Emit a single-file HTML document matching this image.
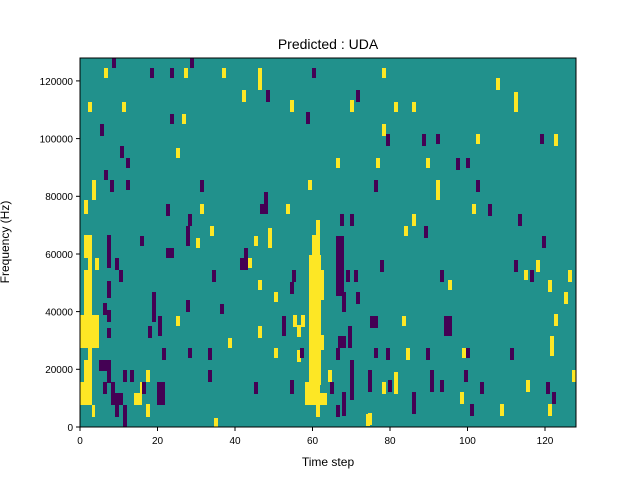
<!DOCTYPE html>
<html><head><style>body{margin:0;background:#fff}svg{display:block}text{font-family:"Liberation Sans","DejaVu Sans",sans-serif;font-size:10px;fill:#000}</style></head>
<body>
<svg width="640" height="480" xmlns="http://www.w3.org/2000/svg">
<rect x="80" y="58" width="496" height="369" fill="#21918c"/>
<g fill="#fde725">
<rect x="104" y="68" width="4" height="10"/><rect x="184" y="68" width="4" height="10"/><rect x="222" y="68" width="4" height="10"/><rect x="258" y="68" width="4" height="22"/><rect x="382" y="68" width="4" height="10"/><rect x="496" y="78" width="4" height="12"/><rect x="242" y="90" width="4" height="12"/><rect x="290" y="100" width="4" height="12"/><rect x="350" y="100" width="4" height="12"/><rect x="88" y="102" width="4" height="10"/><rect x="122" y="102" width="4" height="10"/><rect x="394" y="102" width="4" height="10"/><rect x="412" y="102" width="4" height="10"/><rect x="514" y="92" width="4" height="20"/><rect x="182" y="114" width="4" height="10"/><rect x="382" y="124" width="4" height="12"/><rect x="554" y="134" width="4" height="12"/><rect x="476" y="134" width="4" height="10"/><rect x="336" y="158" width="4" height="10"/><rect x="426" y="158" width="4" height="10"/><rect x="176" y="148" width="4" height="10"/><rect x="376" y="158" width="4" height="10"/><rect x="92" y="180" width="4" height="20"/><rect x="436" y="180" width="4" height="20"/><rect x="308" y="180" width="4" height="10"/><rect x="84" y="200" width="4" height="14"/><rect x="200" y="204" width="4" height="10"/><rect x="472" y="204" width="4" height="10"/><rect x="286" y="204" width="4" height="10"/><rect x="412" y="214" width="4" height="12"/><rect x="196" y="238" width="4" height="10"/><rect x="268" y="228" width="4" height="20"/><rect x="404" y="226" width="4" height="10"/><rect x="254" y="236" width="4" height="10"/><rect x="210" y="226" width="4" height="10"/>
<rect x="84" y="235" width="8" height="23"/><rect x="88" y="258" width="4" height="12"/><rect x="95" y="258" width="4" height="12"/><rect x="84" y="270" width="8" height="45"/><rect x="80" y="315" width="19" height="33"/><rect x="88" y="348" width="4" height="12"/><rect x="84" y="360" width="8" height="22"/><rect x="80" y="382" width="12" height="23"/><rect x="92" y="405" width="3" height="12"/>
<rect x="316" y="220" width="4" height="15"/><rect x="312" y="235" width="8" height="20"/><rect x="309" y="255" width="12" height="130"/><rect x="310" y="270" width="14" height="30"/><rect x="310" y="335" width="14" height="15"/><rect x="305" y="382" width="15" height="23"/><rect x="309" y="393" width="18" height="12"/><rect x="316" y="405" width="4" height="12"/><rect x="293" y="315" width="4" height="12"/><rect x="301" y="315" width="4" height="12"/><rect x="297" y="325" width="4" height="12"/><rect x="297" y="350" width="4" height="12"/><rect x="328" y="370" width="4" height="12"/>
<rect x="176" y="316" width="4" height="10"/><rect x="228" y="338" width="4" height="10"/><rect x="274" y="292" width="4" height="10"/><rect x="274" y="348" width="4" height="10"/><rect x="258" y="326" width="4" height="12"/><rect x="402" y="316" width="4" height="10"/><rect x="406" y="348" width="4" height="12"/><rect x="394" y="372" width="4" height="22"/><rect x="382" y="382" width="4" height="12"/><rect x="146" y="404" width="4" height="12"/><rect x="366" y="414" width="4" height="12"/><rect x="214" y="418" width="4" height="9"/><rect x="548" y="404" width="4" height="12"/><rect x="500" y="404" width="4" height="12"/><rect x="526" y="380" width="4" height="12"/><rect x="460" y="392" width="4" height="12"/><rect x="554" y="314" width="4" height="12"/><rect x="550" y="336" width="4" height="20"/><rect x="564" y="292" width="4" height="12"/><rect x="568" y="270" width="4" height="12"/><rect x="572" y="370" width="4" height="12"/><rect x="548" y="280" width="4" height="12"/><rect x="524" y="270" width="4" height="10"/><rect x="462" y="348" width="4" height="10"/><rect x="448" y="280" width="4" height="10"/><rect x="258" y="280" width="4" height="10"/><rect x="248" y="258" width="4" height="10"/><rect x="536" y="260" width="4" height="12"/><rect x="146" y="370" width="4" height="12"/><rect x="140" y="382" width="4" height="12"/><rect x="134" y="393" width="8" height="12"/><rect x="146" y="405" width="4" height="12"/><rect x="368" y="413" width="4" height="12"/>
</g>
<g fill="#440154">
<rect x="112" y="58" width="4" height="10"/><rect x="150" y="68" width="4" height="10"/><rect x="170" y="68" width="4" height="10"/><rect x="190" y="58" width="4" height="10"/><rect x="312" y="68" width="4" height="10"/><rect x="266" y="90" width="4" height="12"/><rect x="356" y="90" width="4" height="12"/><rect x="306" y="112" width="4" height="12"/><rect x="100" y="124" width="4" height="12"/><rect x="170" y="114" width="4" height="10"/><rect x="120" y="146" width="4" height="12"/><rect x="386" y="134" width="4" height="12"/><rect x="422" y="134" width="4" height="12"/><rect x="436" y="134" width="4" height="10"/><rect x="540" y="134" width="4" height="10"/><rect x="456" y="158" width="4" height="12"/><rect x="466" y="158" width="4" height="10"/><rect x="126" y="158" width="4" height="10"/><rect x="104" y="170" width="4" height="10"/><rect x="110" y="180" width="4" height="12"/><rect x="126" y="180" width="4" height="10"/><rect x="200" y="180" width="4" height="12"/><rect x="374" y="180" width="4" height="12"/><rect x="476" y="180" width="4" height="12"/><rect x="264" y="192" width="4" height="22"/><rect x="166" y="204" width="4" height="12"/><rect x="188" y="214" width="4" height="12"/><rect x="260" y="204" width="4" height="10"/><rect x="340" y="214" width="4" height="12"/><rect x="350" y="214" width="4" height="12"/><rect x="488" y="204" width="4" height="12"/><rect x="518" y="214" width="4" height="12"/>
<rect x="107" y="235" width="4" height="33"/><rect x="107" y="281" width="4" height="17"/><rect x="107" y="310" width="4" height="12"/><rect x="115" y="258" width="4" height="12"/><rect x="119" y="270" width="4" height="12"/><rect x="103" y="303" width="4" height="12"/><rect x="107" y="328" width="4" height="10"/><rect x="99" y="360" width="12" height="11"/><rect x="107" y="371" width="4" height="12"/><rect x="103" y="382" width="4" height="12"/><rect x="111" y="382" width="4" height="12"/><rect x="111" y="393" width="12" height="12"/><rect x="115" y="405" width="4" height="12"/><rect x="123" y="405" width="4" height="12"/><rect x="123" y="370" width="4" height="12"/><rect x="130" y="370" width="4" height="12"/><rect x="123" y="417" width="4" height="10"/><rect x="157" y="382" width="8" height="23"/>
<rect x="140" y="236" width="4" height="10"/><rect x="186" y="226" width="4" height="20"/><rect x="424" y="226" width="4" height="12"/><rect x="542" y="236" width="4" height="12"/><rect x="166" y="248" width="8" height="10"/><rect x="244" y="248" width="4" height="22"/><rect x="240" y="258" width="4" height="12"/><rect x="336" y="236" width="8" height="60"/><rect x="212" y="270" width="4" height="12"/><rect x="292" y="270" width="4" height="12"/><rect x="346" y="270" width="4" height="12"/><rect x="354" y="270" width="4" height="12"/><rect x="380" y="260" width="4" height="12"/><rect x="440" y="270" width="4" height="12"/><rect x="514" y="260" width="4" height="12"/><rect x="530" y="270" width="4" height="12"/><rect x="152" y="292" width="4" height="30"/><rect x="186" y="300" width="4" height="12"/><rect x="220" y="304" width="4" height="10"/><rect x="342" y="292" width="4" height="20"/><rect x="444" y="316" width="8" height="20"/><rect x="356" y="292" width="4" height="12"/><rect x="370" y="316" width="8" height="12"/><rect x="148" y="326" width="4" height="12"/><rect x="158" y="316" width="4" height="20"/><rect x="282" y="316" width="4" height="20"/><rect x="338" y="336" width="8" height="12"/><rect x="348" y="326" width="4" height="22"/><rect x="162" y="348" width="4" height="12"/><rect x="188" y="348" width="4" height="10"/><rect x="208" y="348" width="4" height="12"/><rect x="300" y="348" width="4" height="10"/><rect x="336" y="348" width="4" height="12"/><rect x="350" y="360" width="4" height="40"/><rect x="374" y="348" width="4" height="10"/><rect x="386" y="348" width="4" height="12"/><rect x="426" y="348" width="4" height="12"/><rect x="466" y="348" width="4" height="10"/><rect x="510" y="348" width="4" height="12"/><rect x="142" y="382" width="4" height="12"/><rect x="208" y="370" width="4" height="12"/><rect x="254" y="382" width="4" height="12"/><rect x="290" y="380" width="4" height="12"/><rect x="330" y="382" width="4" height="12"/><rect x="368" y="370" width="4" height="22"/><rect x="388" y="380" width="4" height="12"/><rect x="430" y="370" width="4" height="22"/><rect x="440" y="380" width="4" height="12"/><rect x="464" y="370" width="4" height="12"/><rect x="480" y="382" width="4" height="12"/><rect x="342" y="392" width="4" height="24"/><rect x="336" y="405" width="4" height="12"/><rect x="412" y="392" width="4" height="22"/><rect x="470" y="404" width="4" height="12"/><rect x="546" y="382" width="4" height="12"/><rect x="552" y="392" width="4" height="12"/><rect x="290" y="282" width="4" height="12"/><rect x="290" y="382" width="4" height="12"/>
</g>
<rect x="80" y="58" width="496" height="369" fill="none" stroke="#000" stroke-width="1"/>
<g stroke="#000">
<line x1="80" y1="427" x2="80" y2="431"/><line x1="157.5" y1="427" x2="157.5" y2="431"/><line x1="235" y1="427" x2="235" y2="431"/><line x1="312.5" y1="427" x2="312.5" y2="431"/><line x1="390" y1="427" x2="390" y2="431"/><line x1="467.5" y1="427" x2="467.5" y2="431"/><line x1="545" y1="427" x2="545" y2="431"/>
<line x1="76" y1="427" x2="80" y2="427"/><line x1="76" y1="369.3" x2="80" y2="369.3"/><line x1="76" y1="311.6" x2="80" y2="311.6"/><line x1="76" y1="254" x2="80" y2="254"/><line x1="76" y1="196.3" x2="80" y2="196.3"/><line x1="76" y1="138.6" x2="80" y2="138.6"/><line x1="76" y1="80.9" x2="80" y2="80.9"/>
</g>
<g text-anchor="middle">
<text x="80" y="444">0</text><text x="157.5" y="444">20</text><text x="235" y="444">40</text><text x="312.5" y="444">60</text><text x="390" y="444">80</text><text x="467.5" y="444">100</text><text x="545" y="444">120</text>
<text x="328" y="466" style="font-size:12px">Time step</text>
<text x="328" y="49" style="font-size:14px">Predicted : UDA</text>
</g>
<g text-anchor="end">
<text x="73" y="431">0</text><text x="73" y="373">20000</text><text x="73" y="315.5">40000</text><text x="73" y="258">60000</text><text x="73" y="200">80000</text><text x="73" y="142.5">100000</text><text x="73" y="85">120000</text>
</g>
<text transform="translate(9,242) rotate(-90)" text-anchor="middle" style="font-size:12px">Frequency (Hz)</text>
</svg>
</body></html>
